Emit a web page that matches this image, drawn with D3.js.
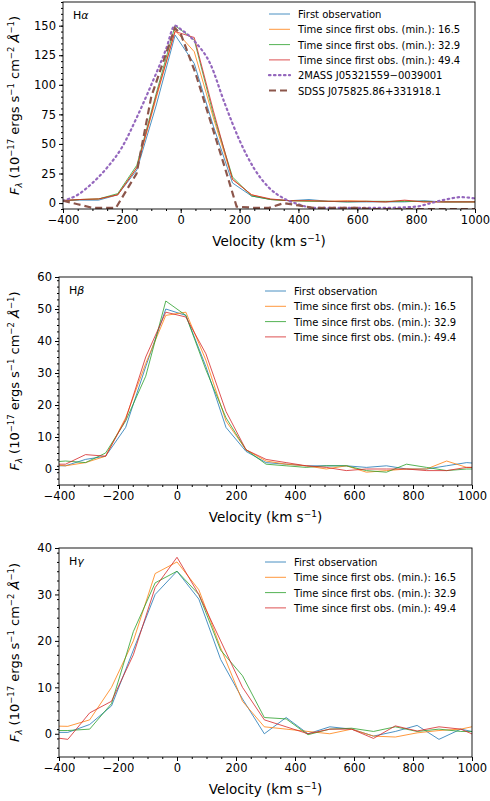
<!DOCTYPE html>
<html><head><meta charset="utf-8">
<script src="https://cdn.jsdelivr.net/npm/d3@7"></script>
<style>body{margin:0;background:#fff}text{font-family:"DejaVu Sans",sans-serif}</style>
</head><body><svg id="c" width="490" height="801"></svg>
<script>
const seriesNames=["First observation","Time since first obs. (min.): 16.5","Time since first obs. (min.): 32.9","Time since first obs. (min.): 49.4"];
const refNames=["2MASS J05321559\u22120039001","SDSS J075825.86+331918.1"];
const xTicks=[-400,-200,0,200,400,600,800,1000];
// H-alpha
const haVel=[-409,-344,-279,-214,-149,-84,-19,46,111,176,241,306,371,436,501,566,631,696,761,826,891,956,1021];
const haObs1=[2,2.5,2.5,7,28,82,142,118,65,17,6,3,2,3,1.5,1,1,1,1,2,1,1,1];
const haObs2=[2,3,3.5,7,30,88,146,128,72,20,7,3,2,2,1.5,2,1.5,1,2,1,1,1,1];
const haObs3=[2,3,3.5,8,32,92,150,138,75,22,6,3,2,1.5,1.5,1,1.5,1.5,1.5,1.5,1,1,1];
const haObs4=[2,3,3.5,7,30,90,145,140,78,20,7,3.5,2,2,1.5,1.5,1.5,1,2.5,1,1,1,1];
const tmVel=[-400,-350,-300,-250,-200,-150,-100,-50,-20,0,50,100,150,200,250,300,350,400,450,500,600,700,800,850,900,950,1000];
const tmFlux=[2,7,17,30,47,72,100,130,150,147,136,118,84,53,29,13,4,-1,-4,-4,-4,-4,-3,0,3,5,4];
const sdVel=[-400,-350,-300,-250,-220,-150,-100,-20,0,50,100,150,190,250,300,350,400,450,600,650,1000];
const sdFlux=[2,-1,-4,-4,-4,25,90,148,143,110,70,30,-3,-4,-4,0,-2,-4,-4,-5,-5];
// H-beta
const hbVel=[-446,-378,-310,-242,-174,-106,-38,30,98,166,234,302,370,438,506,574,642,710,778,846,914,982,1050];
const hbObs1=[1,1,3,4,13,32,50,48,32,13,5.5,2,1.5,1,1,1,0.5,1,0,0,1,2,1.5];
const hbObs2=[1.5,1,2,4,16,33,48,49,34,15,6,2.5,1.5,1,0,1,-1,-0.5,0,0,2.5,0.5,0.5];
const hbObs3=[2,2.5,2,5,15,29,52.5,48,31,16,6,1.5,1,0.5,1,1,-0.5,-1,1.5,0.5,-0.5,0,0];
const hbObs4=[1.5,1.5,4.5,4,15.5,35,49,47.5,36,18,6,3,2,1,0.5,-0.5,0,0,0,-0.5,-0.5,0.5,0.5];
// H-gamma
const hgVel=[-444,-370,-296,-222,-148,-74,0,74,148,222,296,370,444,518,592,666,740,814,888,962,1036];
const hgObs1=[0.3,0.3,2,6,18,30,35,29,16,7.5,0,3.5,0,1.5,1,-0.5,0.5,1.8,-1.2,1,0];
const hgObs2=[1.7,1.6,3,10,20,34.5,37,31,18.5,7,1.5,1,0.5,0,1,-0.5,-0.7,0.2,0.7,1,2];
const hgObs3=[0.7,0.7,1,6.5,22,32.5,35,30,18,12.5,3.5,3.2,-0.2,1,1.2,0.5,1.5,0.5,1,0.5,0.5];
const hgObs4=[-0.6,-1.2,4.5,7,17,31.5,38,30,20,10,3,1.5,0,1,1,-1,1.7,0.6,1.5,1,-1];

const colors=["#1f77b4","#ff7f0e","#2ca02c","#d62728"];
const svg=d3.select("#c");
const panels=[
 {label:"α",x0:63,x1:475,y0:2,y1:209,yd:[-5,170],yt:[0,25,50,75,100,125,150],ym:5,vel:haVel,obs:[haObs1,haObs2,haObs3,haObs4],refs:true,leg:[269,14]},
 {label:"β",x0:59,x1:472,y0:277,y1:485,yd:[-5,60],yt:[0,10,20,30,40,50,60],ym:2,vel:hbVel,obs:[hbObs1,hbObs2,hbObs3,hbObs4],refs:false,leg:[265,291]},
 {label:"γ",x0:59,x1:472,y0:548,y1:757,yd:[-5,40],yt:[0,10,20,30,40],ym:2,vel:hgVel,obs:[hgObs1,hgObs2,hgObs3,hgObs4],refs:false,leg:[265,562]}
];
panels.forEach((p,i)=>{
 const x=d3.scaleLinear().domain([-400,1000]).range([p.x0,p.x1]);
 const y=d3.scaleLinear().domain(p.yd).range([p.y1,p.y0]);
 const g=svg.append("g");
 svg.append("clipPath").attr("id","cp"+i).append("rect").attr("x",p.x0).attr("y",p.y0).attr("width",p.x1-p.x0).attr("height",p.y1-p.y0);
 const pl=g.append("g").attr("clip-path",`url(#cp${i})`);
 const line=d3.line().x(d=>x(d[0])).y(d=>y(d[1]));
 p.obs.forEach((s,k)=>{
  pl.append("path").attr("d",line(p.vel.map((v,j)=>[v,s[j]]))).attr("fill","none").attr("stroke",colors[k]).attr("stroke-width",1).attr("opacity",0.8);
 });
 if(p.refs){
  pl.append("path").attr("d",line.curve(d3.curveMonotoneX)(tmVel.map((v,j)=>[v,tmFlux[j]]))).attr("fill","none").attr("stroke","#9467bd").attr("stroke-width",2.2).attr("stroke-dasharray","1.5,3.5").attr("stroke-linecap","round");
  line.curve(d3.curveLinear);
  pl.append("path").attr("d",line(sdVel.map((v,j)=>[v,sdFlux[j]]))).attr("fill","none").attr("stroke","#8c564b").attr("stroke-width",2.2).attr("stroke-dasharray","7,4");
 }
 g.append("g").attr("transform",`translate(0,${p.y1})`).call(d3.axisBottom(x).tickValues(xTicks).tickFormat(d=>d<0?"\u2212"+(-d):d).tickSize(4));
 g.append("g").attr("transform",`translate(0,${p.y1})`).call(d3.axisBottom(x).tickValues(d3.range(-400,1001,50)).tickFormat("").tickSize(2));
 g.append("g").attr("transform",`translate(${p.x0},0)`).call(d3.axisLeft(y).tickValues(p.yt).tickSize(4));
 g.append("g").attr("transform",`translate(${p.x0},0)`).call(d3.axisLeft(y).tickValues(d3.range(p.yd[0],p.yd[1]+0.01,p.ym)).tickFormat("").tickSize(2));
 g.selectAll(".domain").remove();
 g.selectAll(".tick text").attr("font-size",11.5).attr("fill","#000").attr("font-family","DejaVu Sans");
 g.selectAll(".tick line").attr("stroke","#000");
 g.append("rect").attr("x",p.x0).attr("y",p.y0).attr("width",p.x1-p.x0).attr("height",p.y1-p.y0).attr("fill","none").attr("stroke","#000").attr("stroke-width",0.9);
 const lab=g.append("text").attr("x",p.x0+10).attr("y",p.y0+17).attr("font-size",11);
 lab.append("tspan").text("H");lab.append("tspan").attr("font-style","italic").text(p.label);
 const xt=g.append("text").attr("x",(p.x0+p.x1)/2).attr("y",p.y1+37).attr("text-anchor","middle").attr("font-size",13.5);
 xt.append("tspan").text("Velocity (km s");xt.append("tspan").attr("font-size",9).attr("dy",-5).text("\u22121");xt.append("tspan").attr("dy",5).text(")");
 const yt=g.append("text").attr("transform",`translate(19,${(p.y0+p.y1)/2}) rotate(-90)`).attr("text-anchor","middle").attr("font-size",13);
 yt.append("tspan").attr("font-style","italic").text("F");
 yt.append("tspan").attr("font-size",8.5).attr("dy",3).attr("font-style","italic").text("λ");
 yt.append("tspan").attr("dy",-3).text(" (10");
 yt.append("tspan").attr("font-size",8.5).attr("dy",-5).text("\u221217");
 yt.append("tspan").attr("dy",5).text(" ergs s");
 yt.append("tspan").attr("font-size",8.5).attr("dy",-5).text("\u22121");
 yt.append("tspan").attr("dy",5).text(" cm");
 yt.append("tspan").attr("font-size",8.5).attr("dy",-5).text("\u22122");
 yt.append("tspan").attr("dy",5).attr("font-style","italic").text(" Å");
 yt.append("tspan").attr("font-size",8.5).attr("dy",-5).text("\u22121");
 yt.append("tspan").attr("dy",5).text(")");
 const names=p.refs?seriesNames.concat(refNames):seriesNames;
 names.forEach((n,k)=>{
  const ly=p.leg[1]+k*15.3, lx=p.leg[0];
  const ln=g.append("line").attr("x1",lx).attr("x2",lx+21).attr("y1",ly).attr("y2",ly);
  if(k<4) ln.attr("stroke",colors[k]).attr("stroke-width",1).attr("opacity",0.8);
  else if(k==4) ln.attr("stroke","#9467bd").attr("stroke-width",2.2).attr("stroke-dasharray","1.5,3.5").attr("stroke-linecap","round");
  else ln.attr("stroke","#8c564b").attr("stroke-width",2.2).attr("stroke-dasharray","7,4");
  g.append("text").attr("x",lx+29).attr("y",ly+4).attr("font-size",10).text(n);
 });
});
</script></body></html>
